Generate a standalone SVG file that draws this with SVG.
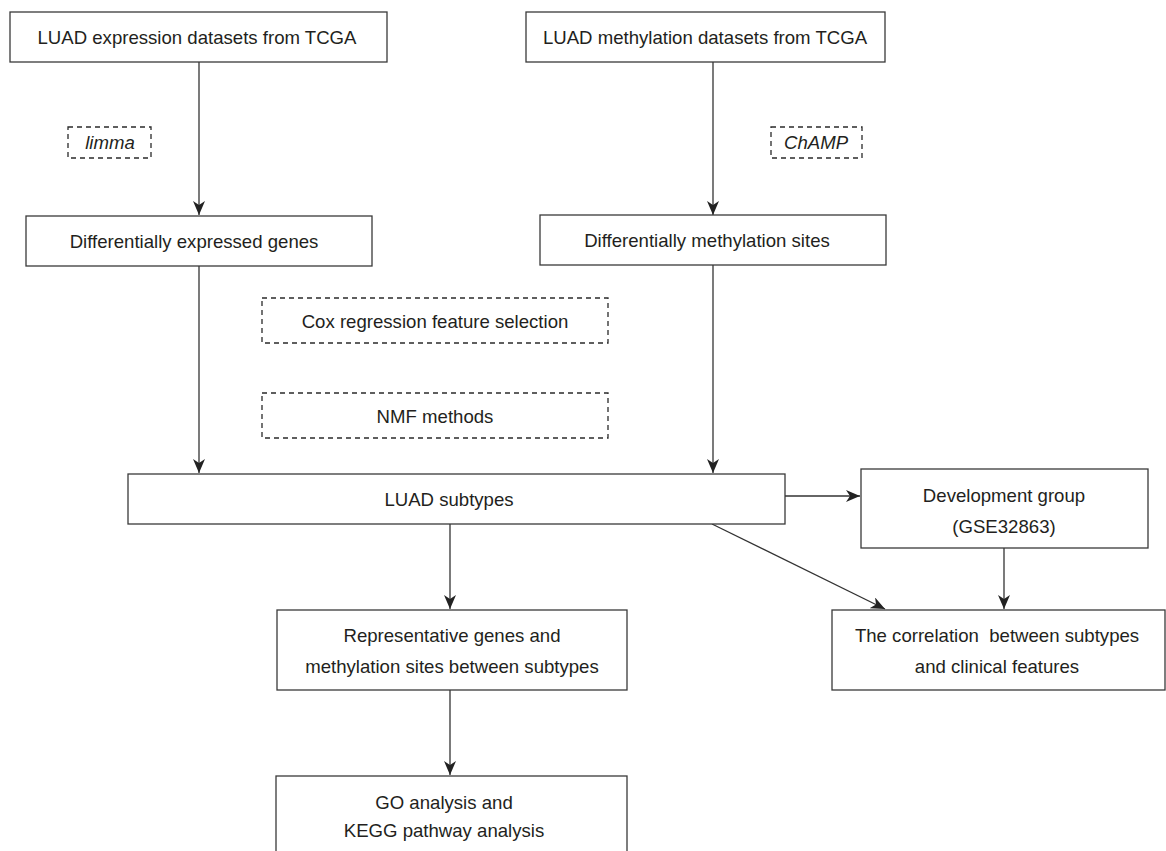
<svg xmlns="http://www.w3.org/2000/svg" width="1166" height="851" viewBox="0 0 1166 851">
<style>
.box{fill:#fff;stroke:#3a3a3a;stroke-width:1.3}
.dash{fill:none;stroke:#2a2a2a;stroke-width:1.3;stroke-dasharray:5 4}
.t{font-family:"Liberation Sans",Arial,sans-serif;font-size:18.6px;fill:#231f20;text-anchor:middle}
.i{font-style:italic}
.c{fill:none;stroke:#333;stroke-width:1.3}
</style>
<defs>
<marker id="ah" viewBox="0 0 14 12" refX="14" refY="6" markerWidth="14" markerHeight="12" markerUnits="userSpaceOnUse" orient="auto">
<path d="M0,0 L14,6 L0,12 L4,6 Z" fill="#222"/>
</marker>
</defs>
<rect width="1166" height="851" fill="#fff"/>
<g id="connectors">
<line class="c" x1="199" y1="62" x2="199" y2="215" marker-end="url(#ah)"/>
<line class="c" x1="713" y1="62" x2="713" y2="215" marker-end="url(#ah)"/>
<line class="c" x1="199" y1="266" x2="199" y2="473" marker-end="url(#ah)"/>
<line class="c" x1="713" y1="265" x2="713" y2="473" marker-end="url(#ah)"/>
<line class="c" x1="785" y1="496" x2="860" y2="496" marker-end="url(#ah)"/>
<line class="c" x1="450" y1="524" x2="450" y2="609" marker-end="url(#ah)"/>
<line class="c" x1="712" y1="524" x2="885" y2="609" marker-end="url(#ah)"/>
<line class="c" x1="1004" y1="548" x2="1004" y2="609" marker-end="url(#ah)"/>
<line class="c" x1="450" y1="690" x2="450" y2="775" marker-end="url(#ah)"/>
</g>
<g id="n_expr">
<rect class="box" x="10" y="12" width="377" height="50"/>
<text class="t" x="197" y="44">LUAD expression datasets from TCGA</text>
</g>
<g id="n_meth">
<rect class="box" x="526" y="12" width="359" height="50"/>
<text class="t" x="705" y="44">LUAD methylation datasets from TCGA</text>
</g>
<g id="n_limma">
<rect class="dash" x="68" y="127" width="83" height="31"/>
<text class="t i" x="110" y="149">limma</text>
</g>
<g id="n_champ">
<rect class="dash" x="771" y="127" width="91" height="31"/>
<text class="t i" x="816" y="149">ChAMP</text>
</g>
<g id="n_deg">
<rect class="box" x="26" y="216" width="346" height="50"/>
<text class="t" x="194" y="248">Differentially expressed genes</text>
</g>
<g id="n_dms">
<rect class="box" x="540" y="215" width="346" height="50"/>
<text class="t" x="707" y="247">Differentially methylation sites</text>
</g>
<g id="n_cox">
<rect class="dash" x="262" y="298" width="346" height="45"/>
<text class="t" x="435" y="328">Cox regression feature selection</text>
</g>
<g id="n_nmf">
<rect class="dash" x="262" y="393" width="346" height="45"/>
<text class="t" x="435" y="423">NMF methods</text>
</g>
<g id="n_subtypes">
<rect class="box" x="128" y="474" width="657" height="50"/>
<text class="t" x="449" y="506">LUAD subtypes</text>
</g>
<g id="n_dev">
<rect class="box" x="861" y="469" width="287" height="79"/>
<text class="t" x="1004" y="502">Development group</text>
<text class="t" x="1004" y="533">(GSE32863)</text>
</g>
<g id="n_rep">
<rect class="box" x="277" y="610" width="350" height="80"/>
<text class="t" x="452" y="642">Representative genes and</text>
<text class="t" x="452" y="673">methylation sites between subtypes</text>
</g>
<g id="n_corr">
<rect class="box" x="832" y="610" width="333" height="80"/>
<text class="t" x="997" y="642">The correlation&#160; between subtypes</text>
<text class="t" x="997" y="673">and clinical features</text>
</g>
<g id="n_go">
<rect class="box" x="276" y="776" width="351" height="90"/>
<text class="t" x="444" y="809">GO analysis and</text>
<text class="t" x="444" y="837">KEGG pathway analysis</text>
</g>
</svg>
